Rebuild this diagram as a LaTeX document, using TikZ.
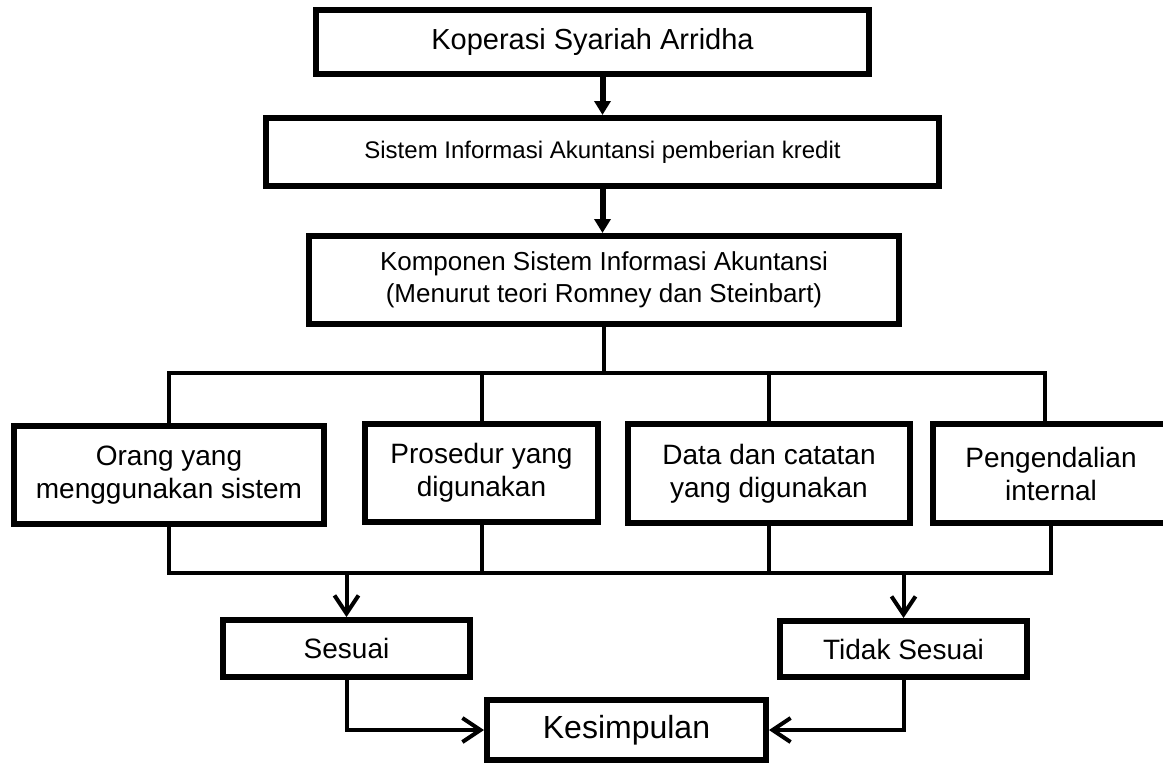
\documentclass[tikz,border=0pt]{standalone}
\usepackage{fontspec}
\setmainfont{Liberation Sans}
\usetikzlibrary{arrows.meta,positioning,calc}

\begin{document}
\begin{tikzpicture}[x=0.5pt,y=-0.5pt]

	\tikzset{
	box/.style={draw, rectangle, line width=3pt, align=center, inner sep=0pt,
		font=\fontsize{14}{16.5}\selectfont},
	link/.style={line width=2pt},
	thick arrow/.style={line width=3pt, -{Triangle[width=8pt,length=7pt]}},
	thin arrow/.style={line width=2pt, -{Straight Barb[width=12pt,length=9pt]}},
}

\useasboundingbox (0,0) rectangle (1163,762);

\node[box, minimum width=276.5pt, minimum height=32pt, font=\fontsize{14.5}{17}\selectfont] (kop) at (592.5,42) {Koperasi Syariah Arridha};
\node[box, minimum width=336.5pt, minimum height=34pt, font=\fontsize{12}{14}\selectfont] (sia) at (602.5,152) {Sistem Informasi Akuntansi pemberian kredit};
\node[box, minimum width=295pt, minimum height=44pt, font=\fontsize{13}{16}\selectfont] (komp) at (604,280) {Komponen Sistem Informasi Akuntansi\\(Menurut teori Romney dan Steinbart)};

\node[box, minimum width=155pt, minimum height=49pt] (orang) at (169,475) {Orang yang\\menggunakan sistem};
\node[box, minimum width=116.5pt, minimum height=49pt] (pros) at (481.5,473) {Prosedur yang\\digunakan};
\node[box, minimum width=141pt, minimum height=49.5pt] (data) at (769,473.5) {Data dan catatan\\yang digunakan};
\node[box, minimum width=118pt, minimum height=49.5pt] (peng) at (1051,473.5) {Pengendalian\\internal};

\node[box, minimum width=123.5pt, minimum height=28.5pt] (sesuai) at (346.5,648.5) {Sesuai};
\node[box, minimum width=123.5pt, minimum height=28pt] (tidak) at (903.5,649) {Tidak Sesuai};
\node[box, minimum width=139.5pt, minimum height=30pt, font=\fontsize{16}{19}\selectfont] (kes) at (626.5,730) {Kesimpulan};

\coordinate (bustop) at (604,373);
\coordinate (busbot) at (604,573);

\draw[thick arrow] (kop.south -| sia.north) -- (sia.north);
\draw[thick arrow] (sia.south) -- (sia.south |- komp.north);

\draw[link] (komp.south) -- (bustop);
\draw[link] (orang.north) |- (bustop) -| ([xshift=-3pt]peng.north);
\draw[link] (pros.north) -- (pros.north |- bustop);
\draw[link] (data.north) -- (data.north |- bustop);

\draw[link] (orang.south) |- (busbot) -| (peng.south);
\draw[link] (pros.south) -- (pros.south |- busbot);
\draw[link] (data.south) -- (data.south |- busbot);

\draw[thin arrow] (sesuai.north |- busbot) -- (sesuai.north);
\draw[thin arrow] (tidak.north |- busbot) -- (tidak.north);
\draw[thin arrow] (sesuai.south) |- (kes.west);
\draw[thin arrow] (tidak.south) |- (kes.east);

\end{tikzpicture}
\end{document}
